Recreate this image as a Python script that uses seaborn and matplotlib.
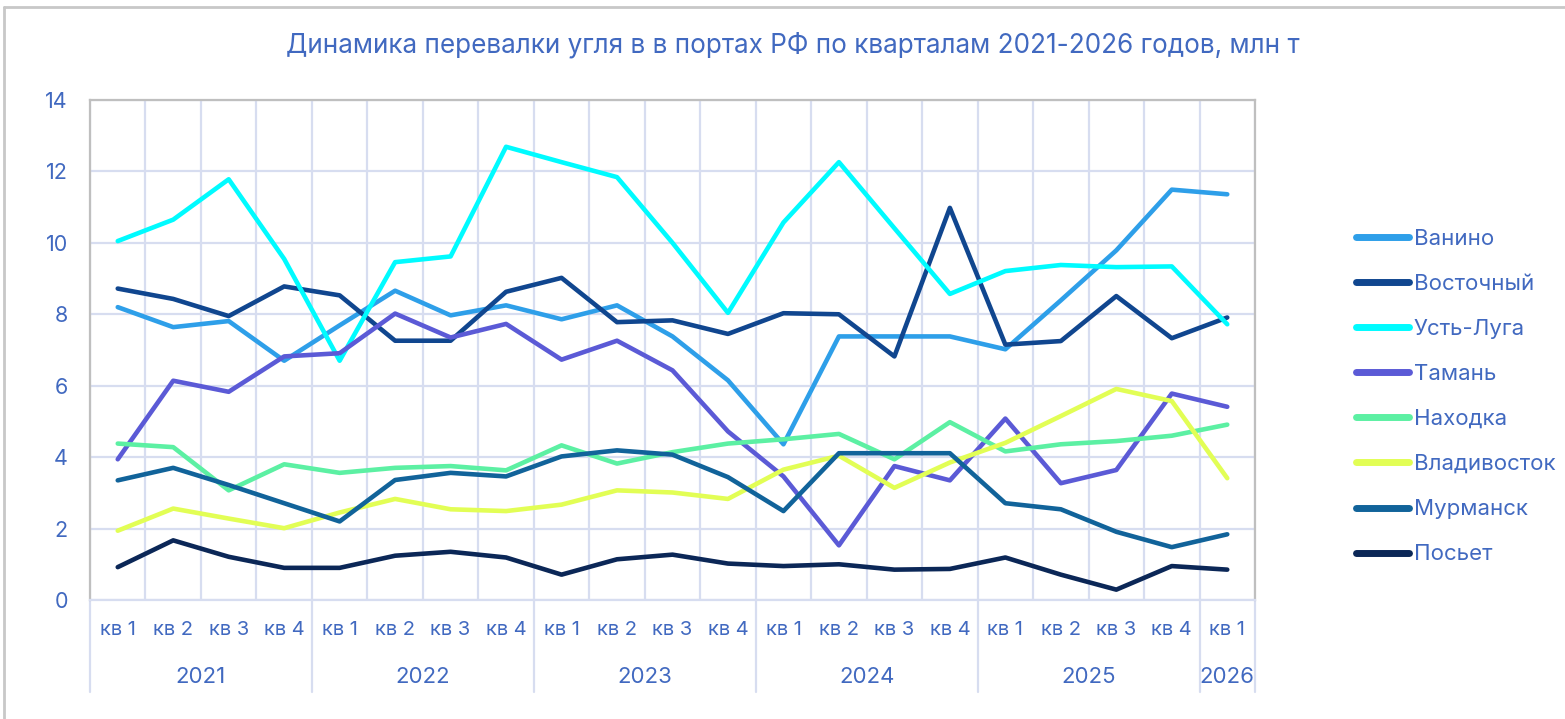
import numpy as np
import pandas as pd
import seaborn as sns
import matplotlib.pyplot as plt
from matplotlib.transforms import blended_transform_factory
from matplotlib.lines import Line2D

# Quarterly coal transshipment by port, mln t
years = ["2021"] * 4 + ["2022"] * 4 + ["2023"] * 4 + ["2024"] * 4 + ["2025"] * 4 + ["2026"]
quarters = ["кв 1", "кв 2", "кв 3", "кв 4"] * 5 + ["кв 1"]

vanino = [8.20, 7.64, 7.81, 6.70, 7.69, 8.66, 7.97, 8.25, 7.86, 8.25, 7.38, 6.15, 4.36,
          7.38, 7.38, 7.38, 7.02, 8.39, 9.79, 11.49, 11.36]
vostochny = [8.72, 8.43, 7.95, 8.78, 8.53, 7.26, 7.26, 8.63, 9.02, 7.78, 7.83, 7.45, 8.03,
             8.00, 6.82, 10.98, 7.15, 7.25, 8.51, 7.33, 7.91]
ust_luga = [10.05, 10.65, 11.78, 9.55, 6.70, 9.46, 9.62, 12.69, 12.26, 11.84, 10.00, 8.04,
            10.57, 12.26, 10.41, 8.57, 9.21, 9.38, 9.32, 9.34, 7.72]
taman = [3.94, 6.14, 5.83, 6.82, 6.91, 8.02, 7.35, 7.73, 6.73, 7.26, 6.43, 4.72, 3.46,
         1.53, 3.75, 3.35, 5.08, 3.27, 3.64, 5.78, 5.41]
nakhodka = [4.38, 4.28, 3.07, 3.80, 3.56, 3.70, 3.75, 3.63, 4.33, 3.82, 4.14, 4.38, 4.50,
            4.65, 3.94, 4.98, 4.16, 4.36, 4.45, 4.60, 4.91]
vladivostok = [1.94, 2.56, 2.28, 2.01, 2.45, 2.83, 2.54, 2.49, 2.67, 3.07, 3.01, 2.83, 3.65,
               4.04, 3.14, 3.85, 4.40, 5.15, 5.91, 5.57, 3.41]
murmansk = [3.35, 3.70, 3.22, 2.71, 2.20, 3.36, 3.56, 3.46, 4.02, 4.19, 4.07, 3.44, 2.49,
            4.11, 4.11, 4.11, 2.71, 2.54, 1.91, 1.48, 1.84]
posyet = [0.92, 1.67, 1.21, 0.90, 0.90, 1.24, 1.35, 1.19, 0.71, 1.14, 1.27, 1.02, 0.95,
          1.00, 0.85, 0.87, 1.19, 0.71, 0.29, 0.95, 0.85]

ports = ["Ванино", "Восточный", "Усть-Луга", "Тамань", "Находка", "Владивосток", "Мурманск", "Посьет"]
series = [vanino, vostochny, ust_luga, taman, nakhodka, vladivostok, murmansk, posyet]
colors = ["#2E9FE9", "#10468F", "#00FBFF", "#5B5AD6", "#5CF0A3", "#E2FE55", "#11639A", "#0B2757"]

title = "Динамика перевалки угля в в портах РФ по кварталам 2021-2026 годов, млн т"
text_color = "#4169C0"
grid_color = "#D7DDF0"
frame_color = "#BFBFBF"

n = len(quarters)
idx = np.arange(n)
df = pd.DataFrame({
    "pos": np.tile(idx, len(ports)),
    "port": np.repeat(ports, n),
    "value": np.concatenate(series),
})

sns.set_theme(style="white")
plt.rcParams["font.family"] = ["Inter", "DejaVu Sans"]

W, H = 1565, 719
fig = plt.figure(figsize=(W / 100, H / 100), dpi=100)
ax = fig.add_axes([90 / W, 1 - 600 / H, (1255 - 90) / W, 500 / H])

sns.lineplot(data=df, x="pos", y="value", hue="port", hue_order=ports,
             palette=dict(zip(ports, colors)), linewidth=3.3, ax=ax,
             legend=False, solid_capstyle="round", solid_joinstyle="round")

ax.set_xlim(-0.5, n - 0.5)
ax.set_ylim(0, 14)
ax.set_yticks(np.arange(0, 15, 2))
ax.set_yticklabels([str(v) for v in range(0, 15, 2)])
ax.set_xticks(idx)
ax.set_xticklabels(quarters)
ax.set_xticks(np.arange(-0.5, n, 1.0), minor=True)
ax.tick_params(axis="both", length=0, colors=text_color)
ax.tick_params(axis="y", pad=16, labelsize=15.5)
ax.tick_params(axis="x", pad=15, labelsize=14.5)
ax.set_xlabel("")
ax.set_ylabel("")

ax.grid(False)
ax.yaxis.grid(True, color=grid_color, linewidth=1.6)
ax.xaxis.grid(True, which="minor", color=grid_color, linewidth=1.6)
ax.set_axisbelow(True)
for side in ["top", "right", "left"]:
    ax.spines[side].set_color(frame_color)
    ax.spines[side].set_linewidth(1.6)
ax.spines["bottom"].set_color(grid_color)
ax.spines["bottom"].set_linewidth(1.6)

# Year group labels and separators beneath the quarter labels
trans = blended_transform_factory(ax.transData, ax.transAxes)
year_order = list(dict.fromkeys(years))
bounds = [-0.5]
for y in year_order:
    members = [i for i, v in enumerate(years) if v == y]
    center = (members[0] + members[-1]) / 2
    ax.annotate(y, xy=(center, 0), xycoords=trans, xytext=(0, -55.5),
                textcoords="offset points", ha="center", va="center",
                color=text_color, fontsize=16)
    bounds.append(members[-1] + 0.5)
for b in bounds:
    ax.plot([b, b], [0, -0.184], transform=trans, color=grid_color,
            linewidth=1.6, clip_on=False)

# Legend
handles = [Line2D([0], [0], color=c, linewidth=5, solid_capstyle="round") for c in colors]
leg = fig.legend(handles, ports, loc="center left",
                 bbox_to_anchor=(1356 / W, 1 - 396.5 / H), frameon=False,
                 fontsize=16, handlelength=2.4, handletextpad=0.2,
                 labelspacing=1.13, borderpad=0, borderaxespad=0)
for t in leg.get_texts():
    t.set_color(text_color)

fig.text(793 / W, 1 - 45 / H, title, ha="center", va="center",
         color=text_color, fontsize=18.8)

# Chart area frame
fig.add_artist(Line2D([4 / W, 1], [1 - 7 / H, 1 - 7 / H], color="#C8C8C8", linewidth=2,
                      transform=fig.transFigure))
fig.add_artist(Line2D([4 / W, 4 / W], [0, 1 - 7 / H], color="#C8C8C8", linewidth=2,
                      transform=fig.transFigure))

fig.savefig("out.png", dpi=100, facecolor="white")
